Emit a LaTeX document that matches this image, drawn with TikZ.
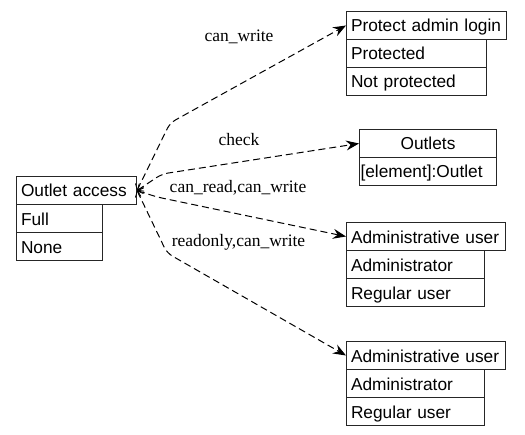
\documentclass[tikz,border=0pt]{standalone}
\usepackage{fontspec}
\setmainfont{Liberation Serif}
\newfontfamily\boxfont{Liberation Sans}
\usetikzlibrary{arrows.meta}
\begin{document}
\begin{tikzpicture}[x=1bp,y=-1bp,
  row/.style={draw=black!85, line width=1bp, anchor=north west, inner xsep=4.5bp, inner ysep=0pt,
    minimum height=28bp, text height=14bp, text depth=1bp,
    font=\boxfont\fontsize{17.3bp}{20bp}\selectfont, align=left},
  lbl/.style={anchor=base, inner sep=0pt, font=\fontsize{17.5bp}{20bp}\selectfont},
  link/.style={draw=black, line width=1bp, dash pattern=on 7bp off 4bp, rounded corners=6bp,
    {Straight Barb[length=5bp,width=9bp,line width=0.8bp]}-{Stealth[length=13bp,width=10bp,inset=4.5bp]}}
]
\useasboundingbox (0,0) rectangle (525,435);
% Outlet access
\node[row, text width=111bp] (oa) at (16,176) {\mbox{Outlet access}};
\node[row, text width=77bp] (oa1) at (16,204) {\mbox{Full}};
\node[row, text width=77bp] (oa2) at (16,232) {\mbox{None}};
% Protect admin login
\node[row, text width=151bp] (pal) at (346,11) {\mbox{Protect admin login}};
\node[row, text width=131bp] (pal1) at (346,39) {\mbox{Protected}};
\node[row, text width=131bp] (pal2) at (346,67) {\mbox{Not protected}};
% Outlets
\node[row, text width=128bp, align=center] (out) at (359,129) {\mbox{Outlets}};
\node[row, text width=135bp, inner xsep=1bp] (out1) at (359,157) {\mbox{[element]:Outlet}};
% Administrative user 1
\node[row, text width=150bp] (au) at (346,222) {\mbox{Administrative user}};
\node[row, text width=129bp] (au1) at (346,250) {\mbox{Administrator}};
\node[row, text width=129bp] (au2) at (346,278) {\mbox{Regular user}};
% Administrative user 2
\node[row, text width=150bp] (bu) at (346,341) {\mbox{Administrative user}};
\node[row, text width=129bp] (bu1) at (346,369) {\mbox{Administrator}};
\node[row, text width=129bp] (bu2) at (346,397) {\mbox{Regular user}};
% bends
\coordinate (b1) at (170,123);
\coordinate (b2) at (162,174);
\coordinate (b3) at (157,197);
\coordinate (b4) at (167,253);
% connectors
\draw[link] (oa.east) -- (b1) -- (pal.west);
\draw[link] (oa.east) -- (b2) -- (out.west);
\draw[link] (oa.east) -- (b3) -- (au.west);
\draw[link] (oa.east) -- (b4) -- (bu.west);
% labels
\node[lbl] (l1) at (239,42) {can\_write};
\node[lbl] (l2) at (239,145.5) {check};
\node[lbl] (l3) at (238,193) {can\_read,can\_write};
\node[lbl] (l4) at (238.5,247) {readonly,can\_write};
\end{tikzpicture}
\end{document}
